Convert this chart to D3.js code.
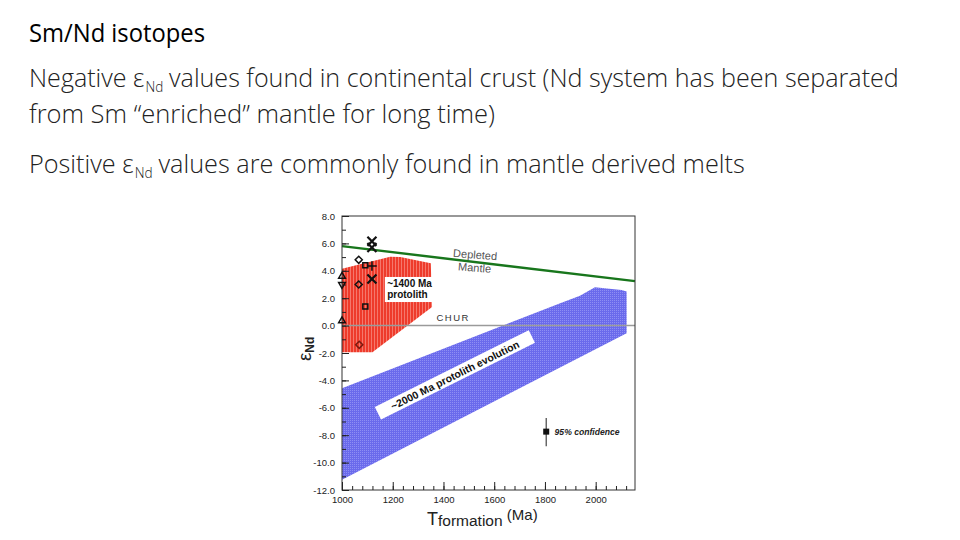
<!DOCTYPE html>
<html>
<head>
<meta charset="utf-8">
<script src="https://cdn.jsdelivr.net/npm/d3@7"></script>
<style>
  body { margin: 0; background: #fff; }
  svg { display: block; }
</style>
</head>
<body>
<div id="slide"></div>
<script>
// Slide text
const titleText = "Sm/Nd isotopes";

// Axis ticks
const yTicks = [-12, -10, -8, -6, -4, -2, 0, 2, 4, 6, 8];
const yMinor = d3.range(-12, 9, 1);
const xTicks = [1000, 1200, 1400, 1600, 1800, 2000];
const xMinor = d3.range(1000, 2160, 40);

// Depleted mantle and CHUR reference lines
const mantleYear = [1000, 2155];
const mantleEps = [5.8, 3.25];
const churYear = [1000, 2155];
const churEps = [0, 0];

// ~1400 Ma protolith field (red)
const redYear = [1000, 1190, 1230, 1350, 1355, 1120, 1000];
const redEps = [4.15, 5.02, 5.0, 4.55, 1.35, -1.95, -1.95];

// ~2000 Ma protolith evolution band (blue)
const blueYear = [1000, 1860, 1938, 1997, 2102, 2122, 2122, 1000];
const blueEps = [-4.57, 1.63, 2.17, 2.8, 2.6, 2.48, -0.55, -11.25];

// sample points
const sampleYear = [1118, 1118, 1066, 1092, 1118, 1118, 1066, 1000, 1000, 1092, 1000, 1068];
const sampleEps = [6.15, 5.7, 4.8, 4.4, 4.35, 3.4, 3.0, 3.6, 3.0, 1.4, 0.35, -1.4];
const sampleSymbol = ["times", "times", "diamond", "square", "plus", "times", "diamond", "triangle", "triangleDown", "square", "triangle", "diamond"];

// 95% confidence error bar
const errYear = [1805];
const errLow = [-8.8];
const errHigh = [-6.75];
const errMid = [-7.74];

const W = 960, H = 540;
const svg = d3.select("#slide").append("svg")
    .attr("width", W)
    .attr("height", H);

svg.append("rect").attr("width", W).attr("height", H).attr("fill", "#fff");

// ---------- slide text ----------
const slideFont = "'Open Sans', 'Liberation Sans', sans-serif";

svg.append("text")
    .attr("x", 29).attr("y", 42)
    .attr("textLength", 176).attr("lengthAdjust", "spacingAndGlyphs")
    .style("font-family", slideFont)
    .style("font-size", "25px")
    .attr("fill", "#000")
    .text(titleText);

// each line is built from pieces, then squeezed to the width seen in the slide
function bodyLine(y, width, parts) {
    const g = svg.append("g");
    let cx = 0;
    parts.forEach(p => {
        const t = g.append("text")
            .attr("x", cx)
            .attr("y", p.sub ? 4.5 : 0)
            .style("font-family", slideFont)
            .style("font-size", p.sub ? "14px" : "26px")
            .style("font-weight", 300)
            .attr("fill", "#222")
            .text(p.t);
        cx += t.node().getComputedTextLength() + (p.gap || 0);
    });
    const k = width / cx;
    g.attr("transform", `translate(29,${y}) scale(${k},1)`);
}

bodyLine(87, 870, [
    { t: "Negative ε", gap: 1 }, { t: "Nd", sub: true, gap: 6 },
    { t: "values found in continental crust (Nd system has been separated" }
]);
bodyLine(122.5, 466, [{ t: "from Sm “enriched” mantle for long time)" }]);
bodyLine(173, 716, [
    { t: "Positive ε", gap: 1 }, { t: "Nd", sub: true, gap: 6 },
    { t: "values are commonly found in mantle derived melts" }
]);

// ---------- chart ----------
const chartFont = "'Liberation Sans', Arial, sans-serif";
const x = d3.scaleLinear().domain([1000, 2155]).range([342, 635]);
const y = d3.scaleLinear().domain([-12, 8]).range([490, 216]);

const defs = svg.append("defs");
const redPat = defs.append("pattern").attr("id", "redHatch")
    .attr("patternUnits", "userSpaceOnUse").attr("width", 3).attr("height", 3);
redPat.append("rect").attr("width", 3).attr("height", 3).attr("fill", "#ee3b2b");
redPat.append("rect").attr("x", 2).attr("width", 1).attr("height", 3).attr("fill", "#f5786c");

const bluePat = defs.append("pattern").attr("id", "blueHatch")
    .attr("patternUnits", "userSpaceOnUse").attr("width", 2).attr("height", 2);
bluePat.append("rect").attr("width", 2).attr("height", 2).attr("fill", "#6a6aec");
bluePat.append("rect").attr("width", 1).attr("height", 1).attr("fill", "#8e8ef4");

const area = d3.line().x(d => x(d[0])).y(d => y(d[1]));

svg.append("path")
    .attr("d", area(d3.zip(blueYear, blueEps)) + "Z")
    .attr("fill", "url(#blueHatch)");

svg.append("path")
    .attr("d", area(d3.zip(redYear, redEps)) + "Z")
    .attr("fill", "url(#redHatch)");

// CHUR line
svg.append("path")
    .attr("d", area(d3.zip(churYear, churEps)))
    .attr("stroke", "#9a9a9a").attr("stroke-width", 1.5).attr("fill", "none");

// Depleted mantle line
svg.append("path")
    .attr("d", area(d3.zip(mantleYear, mantleEps)))
    .attr("stroke", "#18761c").attr("stroke-width", 2.4).attr("fill", "none");

// plot frame
svg.append("rect")
    .attr("x", x(1000)).attr("y", y(8))
    .attr("width", x(2155) - x(1000)).attr("height", y(-12) - y(8))
    .attr("fill", "none").attr("stroke", "#333").attr("stroke-width", 1);

// axes
const yAxis = svg.append("g")
    .attr("transform", `translate(${x(1000)},0)`)
    .call(d3.axisLeft(y).tickValues(yTicks).tickSizeInner(-7).tickSizeOuter(0)
        .tickPadding(7).tickFormat(d => d.toFixed(1)));
svg.append("g")
    .attr("transform", `translate(${x(1000)},0)`)
    .call(d3.axisLeft(y).tickValues(yMinor).tickSize(-4).tickFormat(""))
    .call(g => g.select(".domain").remove());

const xAxis = svg.append("g")
    .attr("transform", `translate(0,${y(-12)})`)
    .call(d3.axisBottom(x).tickValues(xTicks).tickSizeInner(-8).tickSizeOuter(0)
        .tickPadding(6).tickFormat(d3.format("d")));
svg.append("g")
    .attr("transform", `translate(0,${y(-12)})`)
    .call(d3.axisBottom(x).tickValues(xMinor).tickSize(-4).tickFormat(""))
    .call(g => g.select(".domain").remove());

[yAxis, xAxis].forEach(g => {
    g.select(".domain").remove();
    g.selectAll("text").style("font-family", chartFont).style("font-size", "9.5px").attr("fill", "#222");
});
svg.selectAll(".tick line").attr("stroke", "#222");

// sample symbols
const symbolTypes = {
    times: d3.symbolTimes, diamond: d3.symbolDiamond2, square: d3.symbolSquare2,
    plus: d3.symbolPlus, triangle: d3.symbolTriangle2, triangleDown: d3.symbolTriangle2
};
const samples = d3.zip(sampleYear, sampleEps, sampleSymbol);
svg.selectAll(".sample")
    .data(samples)
    .enter().append("path")
    .attr("class", "sample")
    .attr("transform", d => `translate(${x(d[0])},${y(d[1])})` + (d[2] === "triangleDown" ? " rotate(180)" : ""))
    .attr("d", d => d3.symbol().type(symbolTypes[d[2]]).size(d[2] === "times" ? 55 : 32)())
    .attr("fill", "none")
    .attr("stroke", (d, i) => i === samples.length - 1 ? "#7a1a10" : "#111")
    .attr("stroke-width", d => d[2] === "times" ? 2.2 : 1.5);

// error bar
svg.selectAll(".err")
    .data(d3.zip(errYear, errLow, errHigh))
    .enter().append("line")
    .attr("x1", d => x(d[0])).attr("x2", d => x(d[0]))
    .attr("y1", d => y(d[1])).attr("y2", d => y(d[2]))
    .attr("stroke", "#444").attr("stroke-width", 1.2);
svg.selectAll(".errMid")
    .data(d3.zip(errYear, errMid))
    .enter().append("rect")
    .attr("x", d => x(d[0]) - 3).attr("y", d => y(d[1]) - 3)
    .attr("width", 6).attr("height", 6).attr("fill", "#111");
svg.append("text")
    .attr("x", x(1838)).attr("y", y(-7.74) + 3.5)
    .style("font-family", chartFont).style("font-size", "8.6px")
    .style("font-style", "italic").style("font-weight", "bold")
    .attr("fill", "#222")
    .text("95% confidence");

// annotations
svg.append("rect")
    .attr("x", x(1169)).attr("y", y(3.55))
    .attr("width", x(1367) - x(1169)).attr("height", y(1.72) - y(3.55))
    .attr("fill", "#fff");
svg.append("text")
    .attr("x", x(1178)).attr("y", y(2.82))
    .style("font-family", chartFont).style("font-size", "10px").style("font-weight", "bold")
    .attr("fill", "#111").text("~1400 Ma");
svg.append("text")
    .attr("x", x(1178)).attr("y", y(1.98))
    .style("font-family", chartFont).style("font-size", "10px").style("font-weight", "bold")
    .attr("fill", "#111").text("protolith");

svg.append("text")
    .attr("x", x(1373)).attr("y", y(0.35))
    .style("font-family", chartFont).style("font-size", "9.5px")
    .style("letter-spacing", "1.4px")
    .attr("fill", "#333").text("CHUR");

const dm = svg.append("g")
    .attr("transform", `translate(${x(1437)},${y(5.02)}) rotate(4.5)`);
dm.append("text").attr("x", 0).attr("y", 0)
    .style("font-family", chartFont).style("font-size", "11px")
    .attr("fill", "#555").text("Depleted");
dm.append("text").attr("x", 6).attr("y", 13)
    .style("font-family", chartFont).style("font-size", "11px")
    .attr("fill", "#555").text("Mantle");

const bl = svg.append("g")
    .attr("transform", `translate(${x(1445)},${y(-3.6)}) rotate(-26.5)`);
bl.append("rect").attr("x", -86).attr("y", -7).attr("width", 172).attr("height", 14).attr("fill", "#fff");
bl.append("text").attr("x", 0).attr("y", 4)
    .attr("text-anchor", "middle")
    .style("font-family", chartFont).style("font-size", "10.5px").style("font-weight", "bold")
    .attr("fill", "#111").text("~2000 Ma protolith evolution");

// axis titles
const yt = svg.append("text")
    .attr("transform", `translate(311,${y(-1.7)}) rotate(-90)`)
    .attr("text-anchor", "middle")
    .style("font-family", chartFont)
    .attr("fill", "#222");
yt.append("tspan").style("font-size", "19px").text("ε");
yt.append("tspan").style("font-size", "12px").style("font-weight", "bold").attr("dy", 3).text("Nd");

const xt = svg.append("text")
    .attr("x", 427).attr("y", 525)
    .style("font-family", chartFont)
    .attr("fill", "#222");
xt.append("tspan").style("font-size", "18px").text("T");
xt.append("tspan").style("font-size", "15.5px").attr("dy", 1).text("formation");
xt.append("tspan").style("font-size", "15px").attr("dy", -6).text(" (Ma)");
</script>
</body>
</html>
